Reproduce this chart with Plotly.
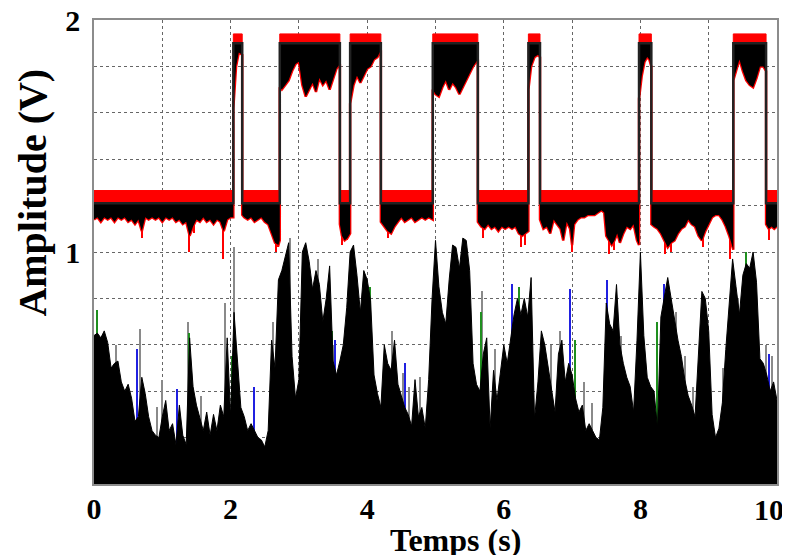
import plotly.graph_objects as go

# square-wave levels of the upper band (red probe and black probe)
t_level = [0, 2.04, 2.04, 2.17, 2.17, 2.72, 2.72, 3.60, 3.60, 3.75, 3.75, 4.20, 4.20,
           4.96, 4.96, 5.62, 5.62, 6.36, 6.36, 6.53, 6.53, 7.98, 7.98, 8.16, 8.16,
           9.36, 9.36, 9.84, 9.84, 10]
red_top = [1.265, 1.265, 1.94, 1.94, 1.265, 1.265, 1.94, 1.94, 1.265, 1.265, 1.94, 1.94, 1.265,
           1.265, 1.94, 1.94, 1.265, 1.265, 1.94, 1.94, 1.265, 1.265, 1.94, 1.94, 1.265,
           1.265, 1.94, 1.94, 1.265, 1.265]
black_top = [1.21, 1.21, 1.90, 1.90, 1.21, 1.21, 1.90, 1.90, 1.21, 1.21, 1.90, 1.90, 1.21,
             1.21, 1.90, 1.90, 1.21, 1.21, 1.90, 1.90, 1.21, 1.21, 1.90, 1.90, 1.21,
             1.21, 1.90, 1.90, 1.21, 1.21]

# lower edge of the noisy black band
t_band = [0, 0.05, 0.1, 0.15, 0.2, 0.25, 0.3, 0.35, 0.4, 0.45, 0.5, 0.55, 0.6, 0.65, 0.7, 0.75,
          0.8, 0.85, 0.9, 0.95, 1.0, 1.05, 1.1, 1.15, 1.2, 1.25, 1.3, 1.35, 1.4, 1.45, 1.5,
          1.55, 1.6, 1.65, 1.7, 1.75, 1.8, 1.85, 1.9, 1.95, 2.0, 2.04,
          2.04, 2.08, 2.12, 2.17,
          2.17, 2.2, 2.25, 2.3, 2.35, 2.4, 2.45, 2.5, 2.55, 2.6, 2.65, 2.7, 2.72,
          2.72, 2.75, 2.8, 2.85, 2.9, 2.95, 3.0, 3.05, 3.1, 3.15, 3.2, 3.25, 3.3, 3.35, 3.4,
          3.45, 3.5, 3.55, 3.6,
          3.6, 3.63, 3.67, 3.71, 3.75,
          3.75, 3.8, 3.85, 3.9, 3.95, 4.0, 4.05, 4.1, 4.15, 4.2,
          4.2, 4.25, 4.3, 4.35, 4.4, 4.45, 4.5, 4.55, 4.6, 4.65, 4.7, 4.75, 4.8, 4.85, 4.9, 4.96,
          4.96, 5.0, 5.05, 5.1, 5.15, 5.2, 5.25, 5.3, 5.35, 5.4, 5.45, 5.5, 5.55, 5.62,
          5.62, 5.67, 5.72, 5.77, 5.82, 5.87, 5.92, 5.97, 6.02, 6.07, 6.12, 6.17, 6.22, 6.27,
          6.32, 6.36,
          6.36, 6.4, 6.45, 6.5, 6.53,
          6.53, 6.58, 6.63, 6.68, 6.73, 6.78, 6.83, 6.87, 6.92, 6.97, 7.0, 7.03, 7.08, 7.13,
          7.18, 7.23, 7.28, 7.33, 7.38, 7.43, 7.47, 7.5, 7.54, 7.58, 7.62, 7.66, 7.7, 7.75,
          7.8, 7.85, 7.9, 7.95, 7.98,
          7.98, 8.02, 8.06, 8.1, 8.13, 8.16,
          8.16, 8.2, 8.25, 8.3, 8.35, 8.4, 8.45, 8.5, 8.55, 8.6, 8.65, 8.7, 8.75, 8.8, 8.85,
          8.9, 8.95, 9.0, 9.05, 9.1, 9.15, 9.2, 9.25, 9.3, 9.36,
          9.36, 9.4, 9.45, 9.5, 9.55, 9.6, 9.65, 9.7, 9.75, 9.8, 9.84,
          9.84, 9.88, 9.92, 9.96, 10]
black_low = [1.14, 1.15, 1.13, 1.15, 1.14, 1.15, 1.13, 1.15, 1.14, 1.15, 1.13, 1.14, 1.12, 1.14,
             1.09, 1.15, 1.14, 1.15, 1.14, 1.15, 1.13, 1.15, 1.14, 1.15, 1.13, 1.14, 1.12, 1.13,
             1.07, 1.11, 1.14, 1.13, 1.15, 1.13, 1.14, 1.12, 1.14, 1.13, 1.09, 1.14, 1.15, 1.15,
             1.62, 1.80, 1.86, 1.85,
             1.16, 1.15, 1.14, 1.15, 1.13, 1.14, 1.15, 1.13, 1.12, 1.08, 1.04, 1.03, 1.05,
             1.71, 1.70, 1.72, 1.74, 1.78, 1.81, 1.82, 1.72, 1.67, 1.70, 1.73, 1.69, 1.75, 1.72,
             1.74, 1.70, 1.75, 1.79, 1.81,
             1.12, 1.07, 1.05, 1.06, 1.08,
             1.64, 1.72, 1.76, 1.73, 1.76, 1.79, 1.80, 1.83, 1.84, 1.87,
             1.13, 1.11, 1.09, 1.08, 1.11, 1.13, 1.15, 1.13, 1.14, 1.15, 1.13, 1.14, 1.15, 1.14,
             1.15, 1.14,
             1.70, 1.68, 1.67, 1.71, 1.74, 1.70, 1.73, 1.71, 1.68, 1.71, 1.74, 1.77, 1.80, 1.83,
             1.13, 1.11, 1.10, 1.12, 1.10, 1.11, 1.09, 1.11, 1.10, 1.11, 1.10, 1.11, 1.08, 1.07,
             1.08, 1.09,
             1.70, 1.80, 1.84, 1.85, 1.84,
             1.14, 1.10, 1.11, 1.08, 1.14, 1.12, 1.10, 1.05, 1.13, 1.10, 1.03, 1.12, 1.14, 1.15,
             1.15, 1.16, 1.16, 1.16, 1.17, 1.18, 1.17, 1.07, 1.05, 1.03, 1.05, 1.08, 1.04, 1.08,
             1.11, 1.10, 1.12, 1.05, 1.03,
             1.66, 1.76, 1.82, 1.84, 1.83, 1.80,
             1.12, 1.11, 1.10, 1.08, 1.05, 1.02, 1.04, 1.05, 1.08, 1.10, 1.11, 1.14, 1.12, 1.11,
             1.07, 1.05, 1.09, 1.12, 1.15, 1.16, 1.16, 1.14, 1.11, 1.07, 1.01,
             1.74, 1.78, 1.83, 1.78, 1.74, 1.72, 1.71, 1.75, 1.80, 1.80, 1.78,
             1.12, 1.10, 1.11, 1.10, 1.11]

# isolated red excursions below the black band
red_spike_t = [0.70, 1.40, 1.47, 1.89, 2.66, 2.70, 3.63, 3.70, 4.30, 5.70, 6.25, 6.32,
               7.00, 7.55, 7.62, 8.36, 8.45, 8.92, 9.31, 9.88]
red_spike_low = [1.06, 1.00, 1.08, 0.97, 1.00, 1.02, 1.03, 1.05, 1.06, 1.06, 1.02, 1.03,
                 1.00, 0.99, 1.01, 0.99, 1.00, 1.02, 0.97, 1.05]

# lower noisy signals (sampled every 0.05 s)
bot_dt = 0.05
bot_env = [0.64, 0.65, 0.63, 0.66, 0.61, 0.50, 0.52, 0.53, 0.44, 0.40, 0.43, 0.37, 0.27, 0.29, 0.46, 0.39, 0.29, 0.23, 0.21, 0.20,
           0.29, 0.36, 0.23, 0.26, 0.17, 0.34, 0.21, 0.17, 0.63, 0.42, 0.34, 0.29, 0.23, 0.31, 0.21, 0.30, 0.23, 0.34, 0.29, 0.63,
           0.29, 0.74, 0.52, 0.33, 0.29, 0.23, 0.26, 0.23, 0.20, 0.19, 0.16, 0.23, 0.62, 0.50, 0.88, 0.92, 0.98, 1.04, 0.55, 0.37,
           0.45, 1.00, 1.04, 0.96, 0.84, 0.92, 0.86, 0.70, 0.80, 0.94, 0.53, 0.47, 0.53, 0.60, 0.76, 1.00, 1.03, 0.90, 0.74, 0.92,
           0.88, 0.79, 0.47, 0.39, 0.33, 0.60, 0.52, 0.49, 0.62, 0.43, 0.38, 0.33, 0.30, 0.25, 0.45, 0.29, 0.33, 0.24, 0.45, 0.80,
           1.05, 0.85, 0.74, 0.69, 0.88, 1.03, 1.02, 0.93, 1.06, 1.05, 0.92, 0.52, 0.43, 0.40, 0.56, 0.63, 0.24, 0.49, 0.36, 0.49,
           0.60, 0.52, 0.62, 0.73, 0.80, 0.73, 0.80, 0.72, 0.89, 0.28, 0.44, 0.66, 0.60, 0.50, 0.40, 0.31, 0.56, 0.62, 0.44, 0.52,
           0.47, 0.37, 0.31, 0.34, 0.23, 0.26, 0.23, 0.20, 0.19, 0.33, 0.78, 0.69, 0.66, 0.86, 0.60, 0.52, 0.46, 0.42, 0.31, 0.62,
           1.00, 0.64, 0.46, 0.42, 0.40, 0.24, 0.72, 0.80, 0.89, 0.80, 0.70, 0.62, 0.55, 0.45, 0.38, 0.34, 0.29, 0.55, 0.83, 0.80,
           0.66, 0.30, 0.20, 0.24, 0.35, 0.58, 0.78, 0.97, 0.85, 0.73, 0.90, 0.95, 0.93, 1.00, 0.87, 0.54, 0.52, 0.47, 0.40, 0.44,
           0.36]
t_bot = [i * bot_dt for i in range(len(bot_env))]

gray_spike_t = [0.68, 1.00, 1.38, 1.92, 2.05, 2.62, 3.52, 4.37, 4.78, 5.69, 6.12, 6.70, 7.30, 8.65, 9.43, 9.84,
                0.33, 0.93, 1.57, 2.87, 3.28, 4.52, 4.62, 5.88, 6.82, 7.17, 7.72, 8.52, 8.78, 9.21, 9.93]
gray_spike_h = [0.67, 0.45, 0.70, 0.78, 1.02, 0.70, 0.60, 0.66, 0.46, 0.83, 0.80, 0.60, 0.35, 0.55, 0.80, 0.60,
                0.60, 0.33, 0.38, 1.06, 0.97, 0.48, 0.42, 0.58, 0.66, 0.44, 0.64, 0.74, 0.42, 0.50, 0.55]
green_spike_t = [0.05, 1.40, 2.02, 3.48, 4.05, 5.67, 6.22, 7.05, 8.25, 9.55, 9.70]
green_spike_h = [0.75, 0.65, 0.55, 0.66, 0.85, 0.74, 0.85, 0.62, 0.70, 1.00, 0.82]
blue_spike_t = [0.63, 1.22, 2.35, 3.53, 4.55, 5.30, 6.12, 6.97, 7.52, 8.35, 9.40, 9.88]
blue_spike_h = [0.58, 0.41, 0.42, 0.62, 0.52, 0.72, 0.86, 0.84, 0.88, 0.86, 0.74, 0.56]

x_ticks = [0, 2, 4, 6, 8, 10]
x_tick_text = ['0', '2', '4', '6', '8', '']   # the last label is placed by hand (it sits at the edge)
y_ticks = [1, 2]

fig = go.Figure()

# red excursions (drawn under the bands)
fig.add_trace(go.Bar(x=red_spike_t, base=red_spike_low, y=[1.2 - v for v in red_spike_low],
                     width=0.02, marker=dict(color='red', line=dict(width=0))))

# spikes of the lower signals
for ts, hs, col in [(gray_spike_t, gray_spike_h, '#8a8a8a'),
                    (green_spike_t, green_spike_h, '#1f8f1f'),
                    (blue_spike_t, blue_spike_h, '#2020e0')]:
    fig.add_trace(go.Bar(x=ts, y=hs, width=0.02, marker=dict(color=col, line=dict(width=0))))

# red band
fig.add_trace(go.Scatter(x=t_band, y=black_low, mode='lines', line=dict(color='red', width=2.5)))
fig.add_trace(go.Scatter(x=t_level, y=red_top, mode='lines', fill='tonexty', fillcolor='red',
                         line=dict(color='red', width=1)))
# black band
fig.add_trace(go.Scatter(x=t_band, y=black_low, mode='lines', line=dict(width=0)))
fig.add_trace(go.Scatter(x=t_level, y=black_top, mode='lines', fill='tonexty', fillcolor='black',
                         line=dict(color='#222', width=2.5)))

# lower signals
fig.add_trace(go.Scatter(x=t_bot, y=bot_env, mode='lines', fill='tozeroy', fillcolor='black',
                         line=dict(color='black', width=1)))

font_x = dict(family='Liberation Serif', size=32, color='black', weight='bold')
font_y = dict(family='Liberation Serif', size=40, color='black', weight='bold')
tick_font = dict(family='Liberation Serif', size=30, color='black', weight='bold')
fig.add_annotation(text='Temps (s)', xref='paper', yref='paper', x=0.5286, y=-0.121,
                   showarrow=False, font=font_x, xanchor='center', yanchor='middle')
fig.add_annotation(text='Amplitude (V)', xref='paper', yref='paper', x=-0.09, y=0.627,
                   showarrow=False, font=font_y, textangle=-90,
                   xanchor='center', yanchor='middle')
fig.add_annotation(text=str(x_ticks[-1]), xref='paper', yref='paper', x=1.0135, y=-0.054,
                   showarrow=False, font=tick_font, xanchor='right', yanchor='middle')

fig.update_layout(
    width=782, height=547,
    margin=dict(l=86, r=13, t=12, b=71),
    paper_bgcolor='white', plot_bgcolor='white',
    showlegend=False, barmode='overlay', bargap=0,
    xaxis=dict(range=[0, 10], tickmode='array', tickvals=x_ticks, ticktext=x_tick_text,
               ticks='', tickfont=tick_font, automargin=False, ticklabeloverflow='allow',
               ticklabelstandoff=-3,
               showline=True, mirror=True, linecolor='#8c8c8c',
               linewidth=1.5, showgrid=True, gridcolor='#666', griddash='dot', gridwidth=1,
               zeroline=False,
               minor=dict(dtick=1, tick0=0, showgrid=True, gridcolor='#666', griddash='dot')),
    yaxis=dict(range=[0, 2], tickmode='array', tickvals=y_ticks, ticks='',
               tickfont=tick_font, automargin=False, ticklabeloverflow='allow',
               ticklabelstandoff=6, showline=True,
               mirror=True, linecolor='#8c8c8c', linewidth=1.5, showgrid=True,
               gridcolor='#666', griddash='dot', gridwidth=1, zeroline=False,
               minor=dict(dtick=0.2, tick0=0, showgrid=True, gridcolor='#666', griddash='dot')),
)

fig.write_html("out.html")
